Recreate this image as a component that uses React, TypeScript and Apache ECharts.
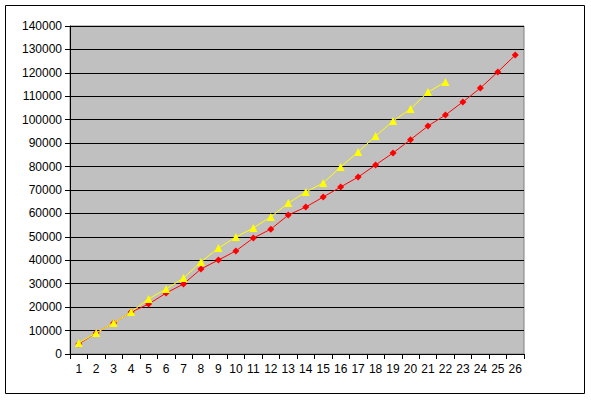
import React, { useEffect, useRef } from "react";
import * as echarts from "echarts";

const categories = Array.from({ length: 26 }, (_, i) => String(i + 1));
const redValues = [
  4300, 9000, 13200, 17900, 21300, 26000, 29900, 36300, 40100, 44000,
  49500, 53300, 59300, 62700, 67000, 71300, 75500, 80700, 85800, 91500,
  97300, 102000, 107600, 113500, 120400, 127600,
];
const yellowValues = [
  4700, 9000, 13200, 17900, 23500, 27700, 32400, 39300, 45200, 49900,
  53800, 58500, 64400, 69100, 73000, 79800, 86200, 93000, 99400, 104600,
  111800, 116100,
];

export default function App() {
  const ref = useRef<HTMLDivElement>(null);
  useEffect(() => {
    if (!ref.current) return;
    const chart = echarts.init(ref.current, null, { renderer: "svg" });
    const font = "Liberation Sans, Arial, sans-serif";
    chart.setOption({
      animation: false,
      backgroundColor: "#ffffff",
      graphic: [
        {
          type: "rect",
          shape: { x: 5.5, y: 5.5, width: 579, height: 388 },
          style: { fill: "none", stroke: "#000000", lineWidth: 1 },
          z: 100,
        },
      ],
      grid: {
        left: 70,
        right: 67,
        top: 26,
        bottom: 46,
        show: true,
        backgroundColor: "#C0C0C0",
        borderColor: "#808080",
        borderWidth: 1,
      },
      xAxis: {
        type: "category",
        data: categories,
        boundaryGap: true,
        axisLine: { lineStyle: { color: "#000000", width: 1 } },
        axisTick: { show: true, length: 5, alignWithLabel: false, lineStyle: { color: "#000000" } },
        axisLabel: { color: "#000000", fontSize: 12, fontFamily: font, margin: 9, interval: 0 },
        splitLine: { show: false },
      },
      yAxis: {
        type: "value",
        min: 0,
        max: 140000,
        interval: 10000,
        axisLine: { show: true, lineStyle: { color: "#000000", width: 1 } },
        axisTick: { show: true, length: 5, lineStyle: { color: "#000000" } },
        axisLabel: {
          color: "#000000",
          fontSize: 12,
          fontFamily: font,
          margin: 8,
          formatter: (v: number) => String(v),
        },
        splitLine: { show: true, lineStyle: { color: "#000000", width: 1 } },
      },
      series: [
        {
          type: "line",
          data: redValues,
          symbol: "diamond",
          symbolSize: 7,
          lineStyle: { color: "#FF0000", width: 1 },
          itemStyle: { color: "#FF0000" },
          z: 3,
        },
        {
          type: "line",
          data: yellowValues,
          symbol: "triangle",
          symbolSize: 8,
          lineStyle: { color: "#FFFF00", width: 1 },
          itemStyle: { color: "#FFFF00" },
          z: 4,
        },
      ],
    });
    return () => chart.dispose();
  }, []);
  return (
    <div
      ref={ref}
      style={{ position: "fixed", left: 0, top: 0, width: 591, height: 400 }}
    />
  );
}
